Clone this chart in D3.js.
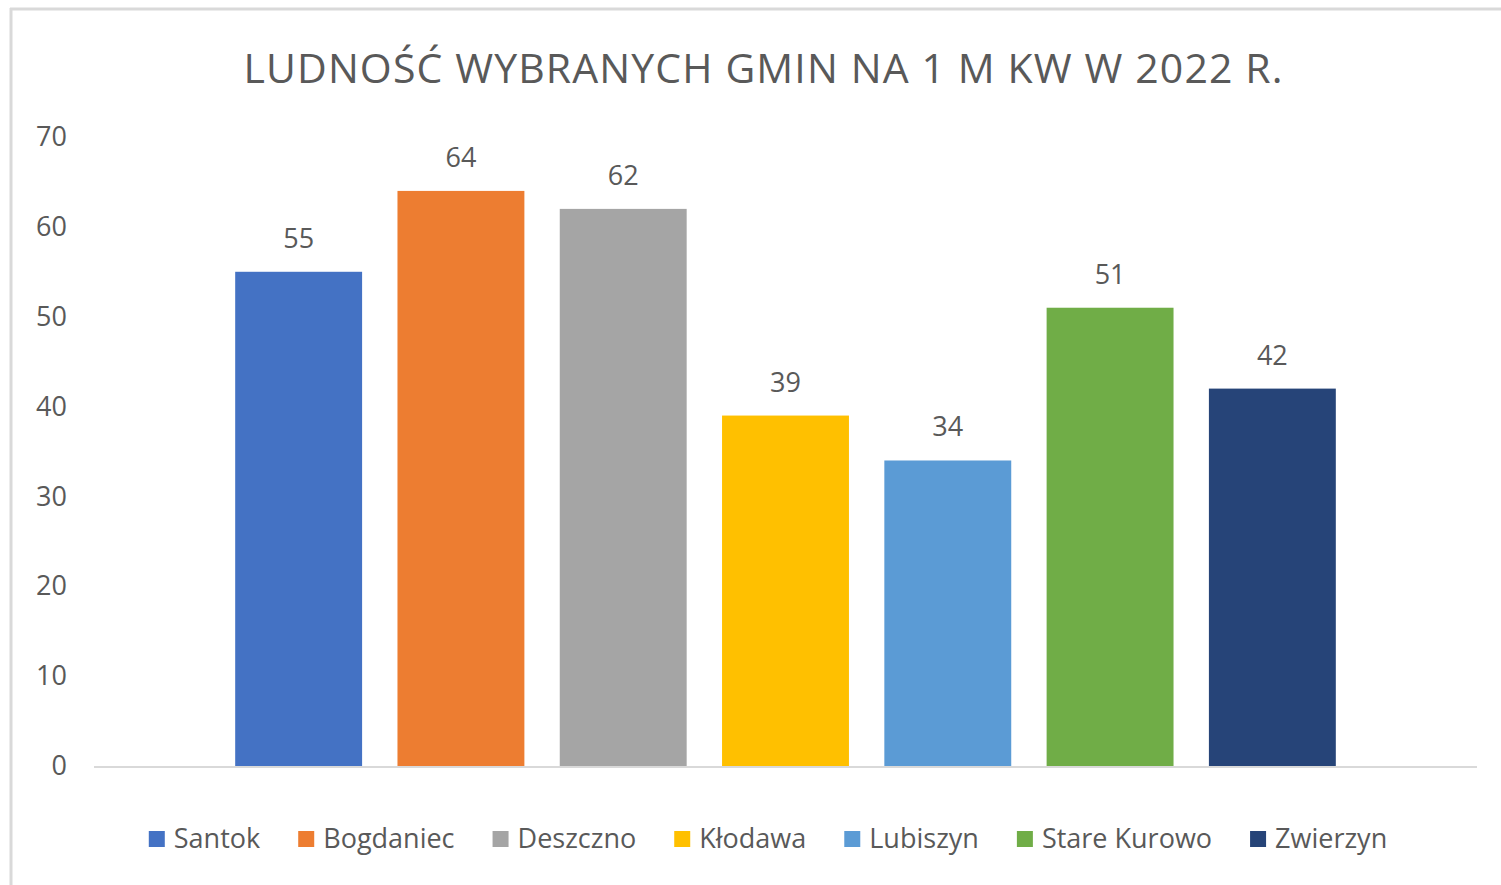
<!DOCTYPE html>
<html>
<head>
<meta charset="utf-8">
<script src="https://cdn.jsdelivr.net/npm/d3@7"></script>
<style>
  body { margin: 0; background: #fff; }
  svg text { font-family: "Open Sans", sans-serif; fill: #595959; }
</style>
</head>
<body>
<svg id="chart" width="1501" height="885"></svg>
<script>
const title = "LUDNOŚĆ WYBRANYCH GMIN NA 1 M KW W 2022 R."
const gminy = ["Santok", "Bogdaniec", "Deszczno", "Kłodawa", "Lubiszyn", "Stare Kurowo", "Zwierzyn"]
const values = [55, 64, 62, 39, 34, 51, 42]
const colors = ["#4472C4", "#ED7D31", "#A5A5A5", "#FFC000", "#5B9BD5", "#70AD47", "#264478"]
const yTicks = [0, 10, 20, 30, 40, 50, 60, 70]

const svg = d3.select("#chart")

// frame (only top and left edges are visible in the source)
svg.append("line")
    .attr("x1", 10).attr("x2", 1501).attr("y1", 9).attr("y2", 9)
    .attr("stroke", "#d9d9d9").attr("stroke-width", 3)
svg.append("line")
    .attr("x1", 11).attr("x2", 11).attr("y1", 8).attr("y2", 885)
    .attr("stroke", "#d9d9d9").attr("stroke-width", 3)

svg.append("text")
    .text(title)
    .attr("x", 763)
    .attr("y", 83)
    .attr("text-anchor", "middle")
    .attr("font-size", 41)
    .attr("textLength", 1039)
    .attr("lengthAdjust", "spacing")

const plot = {left: 94, right: 1477, top: 137, bottom: 766}

const y = d3.scaleLinear()
    .domain([0, 70])
    .range([plot.bottom, plot.top])

const x = d3.scaleBand()
    .domain(gminy)
    .range([plot.left, plot.right])
    .paddingInner(0.218)
    .paddingOuter(0.87)

const yAxis = svg.append("g")
    .attr("transform", `translate(${plot.left},0)`)
    .call(d3.axisLeft(y).tickValues(yTicks).tickSize(0).tickPadding(27))
yAxis.select(".domain").remove()
yAxis.selectAll("text")
    .attr("font-size", 27)
    .attr("font-family", "Open Sans, sans-serif")
    .attr("fill", "#595959")

svg.append("g")
    .selectAll("rect")
    .data(values)
    .enter()
    .append("rect")
    .attr("x", (d, i) => x(gminy[i]))
    .attr("y", d => y(d))
    .attr("width", x.bandwidth())
    .attr("height", d => y(0) - y(d))
    .attr("fill", (d, i) => colors[i])

svg.append("line")
    .attr("x1", plot.left).attr("x2", plot.right)
    .attr("y1", y(0) + 1).attr("y2", y(0) + 1)
    .attr("stroke", "#d9d9d9").attr("stroke-width", 2)

svg.append("g")
    .selectAll("text")
    .data(values)
    .enter()
    .append("text")
    .text(d => d)
    .attr("x", (d, i) => x(gminy[i]) + x.bandwidth() / 2)
    .attr("y", d => y(d) - 24)
    .attr("text-anchor", "middle")
    .attr("font-size", 27)

// legend
const legend = svg.append("g")
const items = legend.selectAll("g")
    .data(gminy)
    .enter()
    .append("g")
items.append("rect")
    .attr("width", 16).attr("height", 16)
    .attr("y", 831)
    .attr("fill", (d, i) => colors[i])
items.append("text")
    .text(d => d)
    .attr("x", 25)
    .attr("y", 848)
    .attr("font-size", 27)

let widths = []
items.each(function() {
    widths.push(25 + this.querySelector("text").getComputedTextLength())
})
const gap = 38
const total = d3.sum(widths) + gap * (widths.length - 1)
let cx = 768 - total / 2
items.attr("transform", (d, i) => {
    const t = `translate(${cx},0)`
    cx += widths[i] + gap
    return t
})
</script>
</body>
</html>
